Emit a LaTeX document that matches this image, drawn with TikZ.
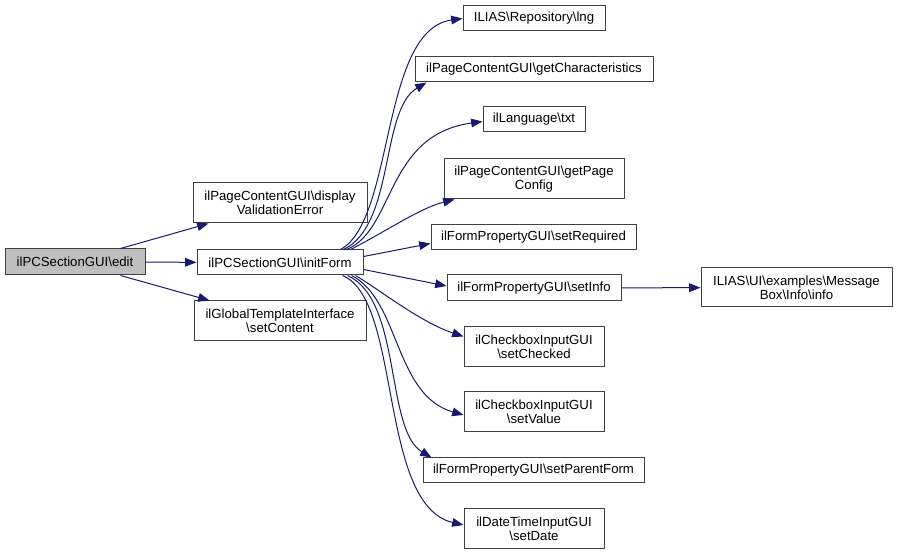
\documentclass[tikz,border=0pt]{standalone}
\usepackage{fontspec}
\setmainfont{Liberation Sans}
\usepackage{tikz}
\usetikzlibrary{arrows.meta,calc}
\definecolor{edgeblue}{RGB}{25, 25, 112}
\definecolor{rootgray}{RGB}{191, 191, 191}
\definecolor{boxline}{RGB}{64, 64, 64}

\begin{document}
\begin{tikzpicture}[x=0.75pt, y=-0.75pt,
    fn/.style={draw=boxline, fill=white, line width=0.75pt, inner sep=0pt,
      align=center, font=\fontsize{9.9}{10.5}\selectfont},
    call/.style={draw=edgeblue, line width=0.75pt,
      -{Triangle[length=8.5pt, width=6.5pt]}}]
\useasboundingbox (0,0) rectangle (897,555);

% caller and its direct callees
\node[fn, fill=rootgray, minimum width=105pt, minimum height=19.5pt] (edit) at (75,262) {ilPCSectionGUI\textbackslash edit};
\node[fn, minimum width=130.5pt, minimum height=30pt] (dve) at (280,203) {ilPageContentGUI\textbackslash display\\ValidationError};
\node[fn, minimum width=124.5pt, minimum height=18.75pt] (initForm) at (280,262.5) {ilPCSectionGUI\textbackslash initForm};
\node[fn, minimum width=129pt, minimum height=30pt] (setContent) at (280,321) {ilGlobalTemplateInterface\\\textbackslash setContent};

\draw[call] ($(edit.north east)+(-25,0)$) -- ($(dve.south west)+(16,0)$);
\draw[call] (edit) -- (initForm);
\draw[call] ($(edit.south east)+(-25,0)$) -- ($(setContent.north west)+(16,0)$);

% callees of initForm
\node[fn, minimum width=106.5pt, minimum height=18.75pt] (lng) at (534,18.5) {ILIAS\textbackslash Repository\textbackslash lng};
\node[fn, minimum width=178.5pt, minimum height=18.75pt] (getChar) at (534,69.5) {ilPageContentGUI\textbackslash getCharacteristics};
\node[fn, minimum width=76.5pt, minimum height=18.75pt] (txt) at (534,119.5) {ilLanguage\textbackslash txt};
\node[fn, minimum width=135pt, minimum height=30pt] (getPageConfig) at (534,179) {ilPageContentGUI\textbackslash getPage\\Config};
\node[fn, minimum width=153.75pt, minimum height=18.75pt] (setRequired) at (533.5,237.5) {ilFormPropertyGUI\textbackslash setRequired};
\node[fn, minimum width=130.5pt, minimum height=19.5pt] (setInfo) at (534,288) {ilFormPropertyGUI\textbackslash setInfo};
\node[fn, minimum width=105pt, minimum height=30pt] (setChecked) at (534,347) {ilCheckboxInputGUI\\\textbackslash setChecked};
\node[fn, minimum width=105pt, minimum height=30pt] (setValue) at (534,412) {ilCheckboxInputGUI\\\textbackslash setValue};
\node[fn, minimum width=165.75pt, minimum height=18.75pt] (setParentForm) at (533.5,470.5) {ilFormPropertyGUI\textbackslash setParentForm};
\node[fn, minimum width=105pt, minimum height=30pt] (setDate) at (534,529) {ilDateTimeInputGUI\\\textbackslash setDate};
\node[fn, minimum width=143.25pt, minimum height=29.25pt] (info) at (796.5,287.5) {ILIAS\textbackslash UI\textbackslash examples\textbackslash Message\\Box\textbackslash Info\textbackslash info};

\draw[call] ($(initForm.north east)+(-23,0)$) .. controls (395,220) and (380,30) .. (lng.west);
\draw[call] ($(initForm.north east)+(-20,0)$) .. controls (395,225) and (380,110) .. ($(getChar.south west)+(12,0)$);
\draw[call] ($(initForm.north east)+(-17,0)$) .. controls (395,230) and (385,135) .. ($(txt.west)+(0,2)$);
\draw[call] ($(initForm.north east)+(-13,0)$) .. controls (385,232) and (420,208) .. ($(getPageConfig.south west)+(11,0)$);
\draw[call] ($(initForm.east)+(0,-6)$) -- ($(setRequired.west)+(0,6)$);
\draw[call] ($(initForm.east)+(0,7)$) -- ($(setInfo.west)+(0,-2)$);
\draw[call] ($(initForm.south east)+(-8,0)$) .. controls (380,290) and (420,322) .. ($(setChecked.north west)+(0,10)$);
\draw[call] ($(initForm.south east)+(-12,0)$) .. controls (400,300) and (394,395) .. ($(setValue.west)+(0,3)$);
\draw[call] ($(initForm.south east)+(-16,0)$) .. controls (402,300) and (385,430) .. ($(setParentForm.north west)+(9,0)$);
\draw[call] ($(initForm.south east)+(-21,0)$) .. controls (402,300) and (378,505) .. ($(setDate.west)+(0,-4)$);

% callee of setInfo
\draw[call] (setInfo) -- (info);
\end{tikzpicture}
\end{document}
